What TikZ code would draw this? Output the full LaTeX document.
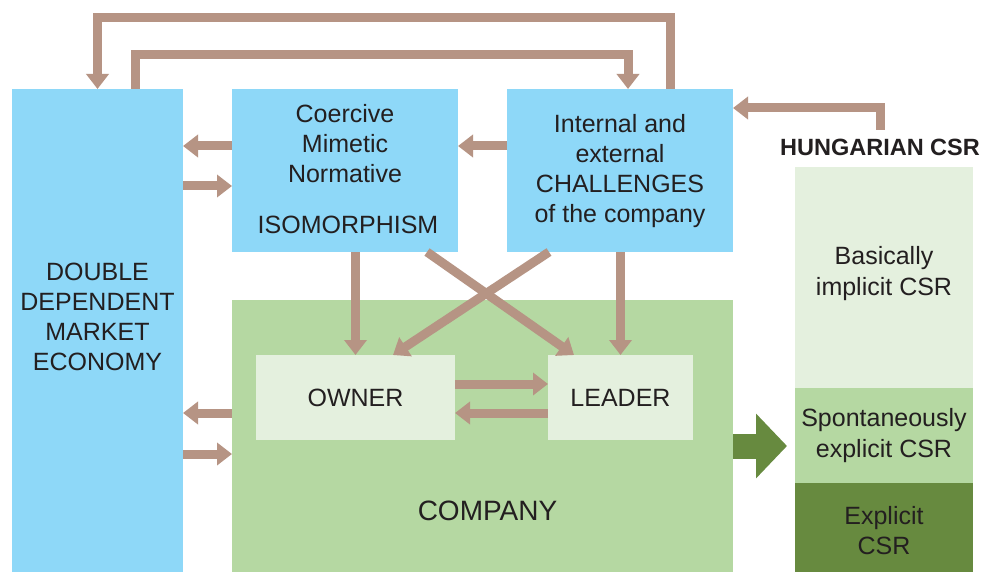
\documentclass[tikz,border=0pt]{standalone}
\usepackage{fontspec}
\setmainfont{Liberation Sans}
\usetikzlibrary{arrows.meta}
\definecolor{cblue}{HTML}{8ED8F8}
\definecolor{cbrown}{HTML}{B69484}
\definecolor{cgreenL}{HTML}{B5D8A2}
\definecolor{cgreenXL}{HTML}{E4F0DE}
\definecolor{cgreenD}{HTML}{678A3F}
\definecolor{ctext}{HTML}{231F20}
\begin{document}
\begin{tikzpicture}[x=1pt,y=-1pt,
  box/.style={anchor=north west, inner sep=0pt, outer sep=0pt, draw=none},
  txt/.style={text=ctext, align=center, font=\fontsize{25}{30}\selectfont, inner sep=0pt},
  barrow/.style={draw=cbrown, line width=9pt, line join=miter, -{Triangle[length=15pt,width=22pt]}},
]
\useasboundingbox (0,0) rectangle (982,572);
\fill[white] (0,0) rectangle (982,572);
% boxes
\node[box, fill=cblue, minimum width=171pt, minimum height=483pt] (ddme) at (12,89) {};
\node[box, fill=cblue, minimum width=226pt, minimum height=163pt] (iso) at (232,89) {};
\node[box, fill=cblue, minimum width=226pt, minimum height=163pt] (chal) at (507,89) {};
\node[box, fill=cgreenL, minimum width=501pt, minimum height=272pt] (comp) at (232,300) {};
\node[box, fill=cgreenXL, minimum width=199pt, minimum height=85pt] (owner) at (256,355) {};
\node[box, fill=cgreenXL, minimum width=145pt, minimum height=85pt] (leader) at (548,355) {};
\node[box, fill=cgreenXL, minimum width=178pt, minimum height=221pt] (csrA) at (795,167) {};
\node[box, fill=cgreenL, minimum width=178pt, minimum height=95pt] (csrB) at (795,388) {};
\node[box, fill=cgreenD, minimum width=178pt, minimum height=89pt] (csrC) at (795,483) {};
% texts
\node[txt] (tddme) at ([yshift=14pt]ddme.center) {DOUBLE\\DEPENDENT\\MARKET\\ECONOMY};
\node[txt] (tiso) at ([yshift=-55pt]iso.north) {Coercive\\Mimetic\\Normative};
\node[txt] (tisom) at ([xshift=3pt,yshift=-136pt]iso.north) {ISOMORPHISM};
\node[txt] (tchal) at ([yshift=-82pt]chal.north) {Internal and\\external\\CHALLENGES\\of the company};
\node[txt] (tcomp) at ([xshift=5pt,yshift=-75pt]comp.center) {\fontsize{28}{32}\selectfont COMPANY};
\node[txt] (town) at (owner.center) {OWNER};
\node[txt] (tlead) at (leader.center) {LEADER};
\node[txt, font=\fontsize{25}{31.5}\selectfont] (tA) at ([yshift=4pt]csrA.center) {Basically\\implicit CSR};
\node[txt, font=\fontsize{25}{31}\selectfont] (tB) at (csrB.center) {Spontaneously\\explicit CSR};
\node[txt] (tC) at ([yshift=-3pt]csrC.center) {Explicit\\CSR};
\node[txt, font=\fontsize{23.5}{28}\selectfont\bfseries] (hung) at (880,147.5) {HUNGARIAN CSR};
% top loops
\draw[barrow] ([xshift=163pt]chal.north west) |- ([yshift=71pt]ddme.north) -- (ddme.north);
\draw[barrow] ([xshift=123pt]ddme.north west) |- ([xshift=121pt,yshift=34pt]chal.north west) -- ([xshift=121pt]chal.north west);
\draw[barrow] ([yshift=9pt]hung.north) |- ([yshift=-19pt]chal.north east);
% horizontal arrows
\draw[barrow] ([yshift=-57pt]iso.north west) -- ([yshift=-57pt]ddme.north east);
\draw[barrow] ([yshift=-97pt]ddme.north east) -- ([yshift=-97pt]iso.north west);
\draw[barrow] ([yshift=-57pt]chal.north west) -- ([yshift=-57pt]iso.north east);
\draw[barrow] ([yshift=-113pt]comp.north west) -- ([yshift=-324pt]ddme.north east);
\draw[barrow] ([yshift=-365pt]ddme.north east) -- ([yshift=-154pt]comp.north west);
\draw[barrow] ([yshift=-29pt]owner.north east) -- ([yshift=-29pt]leader.north west);
\draw[barrow] ([yshift=-58pt]leader.north west) -- ([yshift=-58pt]owner.north east);
% vertical and diagonal arrows
\draw[barrow] (owner.north |- iso.south) -- (owner.north);
\draw[barrow] (leader.north |- chal.south) -- (leader.north);
\draw[barrow] ([xshift=195pt]iso.south west) -- ([xshift=26pt]leader.north west);
\draw[barrow] ([xshift=42pt]chal.south west) -- ([xshift=137pt]owner.north west);
% green arrow
\draw[draw=cgreenD, line width=25pt, -{Triangle[length=31pt,width=63pt]}] ([yshift=-10pt]comp.east) -- ++(54,0);
\end{tikzpicture}
\end{document}
